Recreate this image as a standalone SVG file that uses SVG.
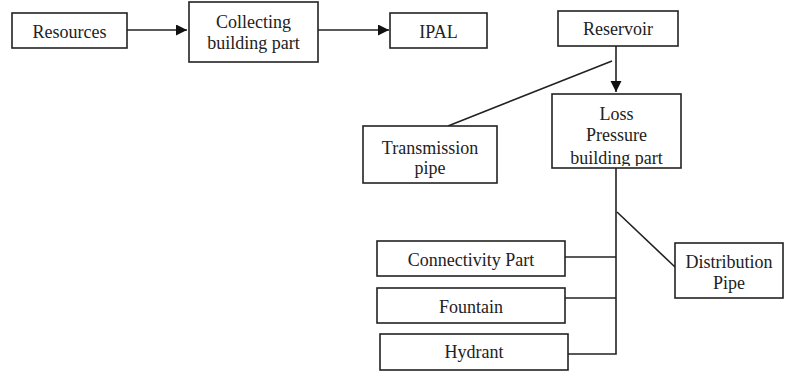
<svg xmlns="http://www.w3.org/2000/svg" width="794" height="371" viewBox="0 0 794 371">
<defs>
<style>
.box{fill:#fff;stroke:#222;stroke-width:1.6}
.t{font-family:"Liberation Serif","Times New Roman",serif;font-size:18px;fill:#222;text-anchor:middle}
.c{fill:none;stroke:#222;stroke-width:1.6}
</style>
<marker id="ah" markerWidth="12" markerHeight="12" refX="11" refY="5.5" orient="auto" markerUnits="userSpaceOnUse">
<path d="M0,0 L11,5.5 L0,11 Z" fill="#111"/>
</marker>
<clipPath id="lossClip"><rect x="552" y="94" width="129" height="72"/></clipPath>
</defs>
<g id="connectors">
<line class="c" x1="127" y1="30" x2="187" y2="30" marker-end="url(#ah)"/>
<line class="c" x1="318" y1="30" x2="389" y2="30" marker-end="url(#ah)"/>
<line class="c" x1="616" y1="46" x2="616" y2="92" marker-end="url(#ah)"/>
<line class="c" x1="612" y1="61" x2="448" y2="126"/>
<polyline class="c" points="616,168 616,354 568,354"/>
<line class="c" x1="565" y1="257" x2="616" y2="257"/>
<line class="c" x1="565" y1="298" x2="616" y2="298"/>
<line class="c" x1="617" y1="212" x2="675" y2="267"/>
</g>
<g id="resources"><rect class="box" x="12" y="13" width="115" height="35"/><text class="t" x="69.5" y="37.5">Resources</text></g>
<g id="collecting"><rect class="box" x="189" y="2" width="129" height="60"/><text class="t" x="253.5" y="28">Collecting</text><text class="t" x="253.5" y="49">building part</text></g>
<g id="ipal"><rect class="box" x="390" y="13" width="97" height="35"/><text class="t" x="438.5" y="37.5">IPAL</text></g>
<g id="reservoir"><rect class="box" x="558" y="11" width="120" height="35"/><text class="t" x="618" y="35">Reservoir</text></g>
<g id="loss"><rect class="box" x="552" y="94" width="129" height="74"/><g clip-path="url(#lossClip)"><text class="t" x="616.5" y="120">Loss</text><text class="t" x="616.5" y="141">Pressure</text><text class="t" x="616.5" y="163.5">building part</text></g></g>
<g id="transmission"><rect class="box" x="363" y="126" width="134" height="57"/><text class="t" x="430" y="154">Transmission</text><text class="t" x="430" y="174">pipe</text></g>
<g id="distribution"><rect class="box" x="675" y="243" width="108" height="55"/><text class="t" x="729" y="268">Distribution</text><text class="t" x="729" y="289">Pipe</text></g>
<g id="connectivity"><rect class="box" x="377" y="241" width="188" height="35"/><text class="t" x="471" y="266">Connectivity Part</text></g>
<g id="fountain"><rect class="box" x="377" y="288" width="188" height="35"/><text class="t" x="471" y="313">Fountain</text></g>
<g id="hydrant"><rect class="box" x="380" y="334" width="188" height="36"/><text class="t" x="474" y="358">Hydrant</text></g>
</svg>
